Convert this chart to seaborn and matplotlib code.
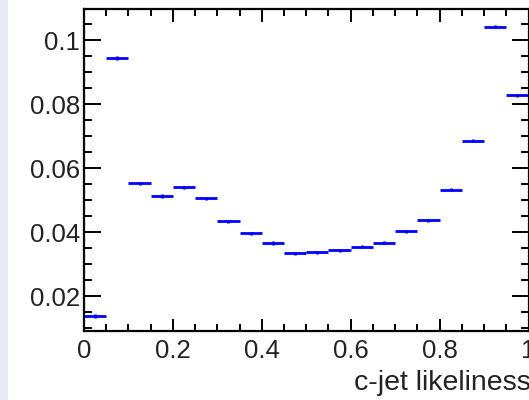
import numpy as np
import matplotlib
matplotlib.use("Agg")
import matplotlib.pyplot as plt
import seaborn as sns
from matplotlib.ticker import MultipleLocator

bin_lo = [0.00, 0.05, 0.10, 0.15, 0.20, 0.25, 0.30, 0.35, 0.40, 0.45,
          0.50, 0.55, 0.60, 0.65, 0.70, 0.75, 0.80, 0.85, 0.90, 0.95]
values = [0.0138, 0.0944, 0.0553, 0.0513, 0.0540, 0.0505, 0.0434, 0.0396, 0.0366, 0.0334,
          0.0337, 0.0343, 0.0354, 0.0367, 0.0402, 0.0437, 0.0533, 0.0685, 0.1042, 0.0828]
errors = [0.0005] * 20
bin_width = 0.05
x_ticks = [0, 0.2, 0.4, 0.6, 0.8, 1]
x_ticklabels = ["0", "0.2", "0.4", "0.6", "0.8", "1"]
y_ticks = [0.02, 0.04, 0.06, 0.08, 0.1]
y_ticklabels = ["0.02", "0.04", "0.06", "0.08", "0.1"]
xlabel = "c-jet likeliness"

sns.set_style("ticks")
plt.rcParams['font.family'] = ['Liberation Sans', 'DejaVu Sans']

fig = plt.figure(figsize=(5.29, 4.00), dpi=100)
fig.patches.append(plt.Rectangle((0, 0), 7 / 529, 1, transform=fig.transFigure,
                                 color="#e8ebf5", zorder=-10))
ax = fig.add_axes([84 / 529, 1 - 331 / 400, (528.5 - 84) / 529, (331 - 9) / 400])

centers = np.array(bin_lo) + bin_width / 2
ax.errorbar(centers, values, xerr=bin_width / 2, yerr=errors, fmt="none",
            ecolor="#0000ff", elinewidth=2.0, capsize=0)

ax.set_xlim(0, 1)
ax.set_ylim(0.0091, 0.1097)
ax.set_xticks(x_ticks)
ax.set_xticklabels(x_ticklabels)
ax.set_yticks(y_ticks)
ax.set_yticklabels(y_ticklabels)
ax.xaxis.set_minor_locator(MultipleLocator(0.05))
ax.yaxis.set_minor_locator(MultipleLocator(0.005))
ax.tick_params(which="both", direction="in", top=True, right=True, color="black",
               width=1.4, labelsize=18.5, labelcolor="#222222")
ax.tick_params(which="major", axis="y", length=12)
ax.tick_params(which="minor", axis="y", length=6)
ax.tick_params(which="major", axis="x", length=9)
ax.tick_params(which="minor", axis="x", length=5)
ax.tick_params(axis="x", pad=6)
ax.tick_params(axis="y", pad=3)
for s in ax.spines.values():
    s.set_linewidth(1.6)
    s.set_color("black")

fig.text(531 / 529, 1 - 383 / 400, xlabel, ha="right", va="center",
         fontsize=20.5, color="#222222")

fig.savefig("out.png", dpi=100)
